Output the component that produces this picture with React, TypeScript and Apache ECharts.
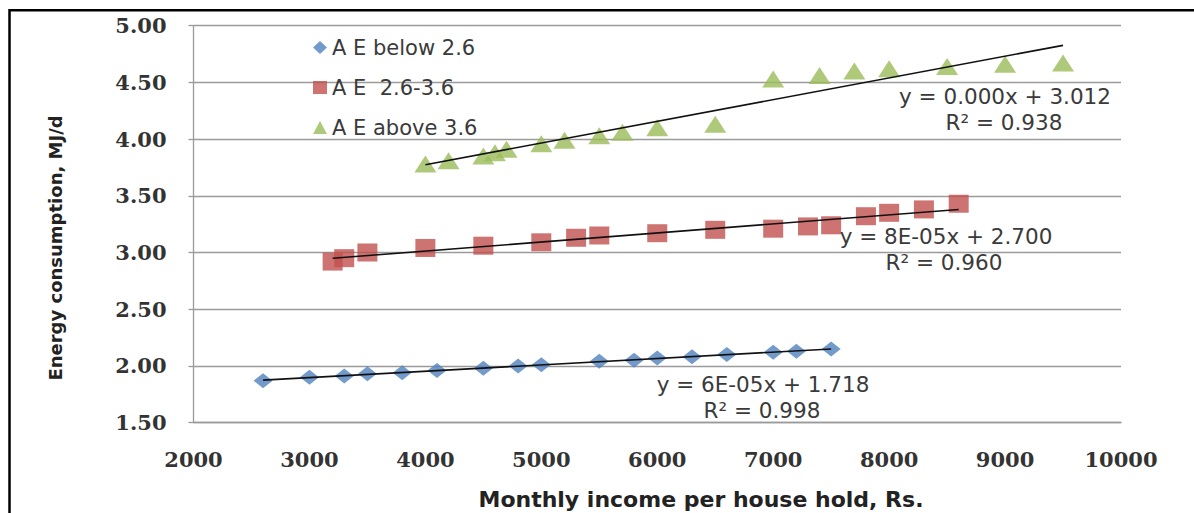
import React, { useEffect, useRef } from "react";
import * as echarts from "echarts";

// ---- data ----
const seriesNames = ["A E below 2.6", "A E  2.6-3.6", "A E above 3.6"];

const blueX = [2600, 3000, 3300, 3500, 3800, 4100, 4500, 4800, 5000, 5500, 5800, 6000, 6300, 6600, 7000, 7200, 7500];
const blueY = [1.87, 1.9, 1.91, 1.93, 1.94, 1.96, 1.98, 2.0, 2.01, 2.04, 2.05, 2.07, 2.08, 2.1, 2.12, 2.13, 2.15];

const redX = [3200, 3300, 3500, 4000, 4500, 5000, 5300, 5500, 6000, 6500, 7000, 7300, 7500, 7800, 8000, 8300, 8600];
const redY = [2.92, 2.95, 3.0, 3.04, 3.06, 3.09, 3.13, 3.15, 3.17, 3.2, 3.21, 3.23, 3.24, 3.32, 3.35, 3.38, 3.43];

const greenX = [4000, 4200, 4500, 4600, 4700, 5000, 5200, 5500, 5700, 6000, 6500, 7000, 7400, 7700, 8000, 8500, 9000, 9500];
const greenY = [3.78, 3.81, 3.85, 3.88, 3.91, 3.96, 3.99, 4.03, 4.06, 4.1, 4.13, 4.53, 4.56, 4.6, 4.62, 4.64, 4.66, 4.67];

const equationLines = [
  ["y = 6E-05x + 1.718", "R² = 0.998"],
  ["y = 8E-05x + 2.700", "R² = 0.960"],
  ["y = 0.000x + 3.012", "R² = 0.938"],
];

const xTitle = "Monthly income per house hold, Rs.";
const yTitle = "Energy consumption, MJ/d";

const colors = ["#4F81BD", "#C0504D", "#9BBB59"];

function pairs(xs: number[], ys: number[]) {
  return xs.map((x, i) => [x, ys[i]]);
}

function trend(xs: number[], ys: number[]) {
  const n = xs.length;
  const mx = xs.reduce((a, b) => a + b, 0) / n;
  const my = ys.reduce((a, b) => a + b, 0) / n;
  let sxy = 0;
  let sxx = 0;
  for (let i = 0; i < n; i++) {
    sxy += (xs[i] - mx) * (ys[i] - my);
    sxx += (xs[i] - mx) * (xs[i] - mx);
  }
  const b = sxy / sxx;
  const a = my - b * mx;
  const x0 = Math.min(...xs);
  const x1 = Math.max(...xs);
  return [
    [x0, a + b * x0],
    [x1, a + b * x1],
  ];
}

export default function App() {
  const ref = useRef<HTMLDivElement>(null);

  useEffect(() => {
    if (!ref.current) return;
    const chart = echarts.init(ref.current, null, { renderer: "svg" });

    const eqPos = [
      [[763, 384], [762, 410]],
      [[946, 236], [944, 262]],
      [[1005, 96], [1004, 122]],
    ];
    const eqGraphics: any[] = [];
    equationLines.forEach((lines, si) => {
      lines.forEach((t, li) => {
        eqGraphics.push({
          type: "text",
          x: eqPos[si][li][0],
          y: eqPos[si][li][1],
          z: 20,
          style: {
            text: t,
            fill: "#3a3a3a",
            font: "21.5px 'DejaVu Sans'",
            align: "center",
            verticalAlign: "middle",
          },
        });
      });
    });

    const option: any = {
      animation: false,
      backgroundColor: "#ffffff",
      grid: { left: 193.5, right: 73, top: 25.7, bottom: 90.4, containLabel: false },
      legend: {
        orient: "vertical",
        left: 308,
        top: 32,
        itemWidth: 14,
        itemHeight: 13,
        itemGap: 19,
        data: [
          { name: seriesNames[0], icon: "diamond" },
          { name: seriesNames[1], icon: "rect" },
          { name: seriesNames[2], icon: "triangle" },
        ],
        textStyle: { fontFamily: "DejaVu Sans", fontSize: 21, color: "#3a3a3a" },
      },
      xAxis: {
        type: "value",
        min: 2000,
        max: 10000,
        interval: 1000,
        splitLine: { show: false },
        axisLine: { show: true, lineStyle: { color: "#9a9a9a", width: 1.3 } },
        axisTick: { show: false },
        axisLabel: {
          margin: 26,
          fontFamily: "DejaVu Serif",
          fontWeight: "bold",
          fontSize: 21,
          color: "#333333",
          formatter: (v: number) => String(v),
        },
      },
      yAxis: {
        type: "value",
        min: 1.5,
        max: 5,
        interval: 0.5,
        splitLine: { show: true, lineStyle: { color: "#9a9a9a", width: 1.3 } },
        axisLine: { show: true, lineStyle: { color: "#9a9a9a", width: 1.3 } },
        axisTick: { show: true, length: 5, lineStyle: { color: "#9a9a9a", width: 1.3 } },
        axisLabel: {
          margin: 27,
          fontFamily: "DejaVu Serif",
          fontWeight: "bold",
          fontSize: 21,
          color: "#333333",
          formatter: (v: number) => v.toFixed(2),
        },
      },
      series: [
        {
          name: seriesNames[0],
          type: "scatter",
          symbol: "diamond",
          symbolSize: [19, 15],
          itemStyle: { color: colors[0] },
          data: pairs(blueX, blueY),
          z: 2,
        },
        {
          name: seriesNames[1],
          type: "scatter",
          symbol: "rect",
          symbolSize: [20, 18],
          itemStyle: { color: colors[1] },
          data: pairs(redX, redY),
          z: 2,
        },
        {
          name: seriesNames[2],
          type: "scatter",
          symbol: "triangle",
          symbolSize: [22, 17],
          itemStyle: { color: colors[2] },
          data: pairs(greenX, greenY),
          z: 2,
        },
        ...[
          [blueX, blueY],
          [redX, redY],
          [greenX, greenY],
        ].map(([xs, ys]) => ({
          type: "line",
          data: trend(xs as number[], ys as number[]),
          showSymbol: false,
          symbol: "none",
          lineStyle: { color: "#111111", width: 1.6 },
          silent: true,
          z: 5,
        })),
      ],
      graphic: [
        {
          type: "rect",
          shape: { x: 9.5, y: 10.3, width: 1400, height: 800 },
          style: { fill: "none", stroke: "#000000", lineWidth: 2.5 },
          z: 30,
        },
        {
          type: "text",
          x: 701,
          y: 499,
          style: {
            text: xTitle,
            fill: "#222222",
            font: "bold 22px 'DejaVu Sans'",
            align: "center",
            verticalAlign: "middle",
          },
        },
        {
          type: "text",
          x: 55,
          y: 248,
          rotation: Math.PI / 2,
          style: {
            text: yTitle,
            fill: "#222222",
            font: "bold 18px 'DejaVu Sans'",
            align: "center",
            verticalAlign: "middle",
          },
        },
        ...eqGraphics,
      ],
    };

    chart.setOption(option);
    return () => chart.dispose();
  }, []);

  return (
    <div
      ref={ref}
      style={{ position: "fixed", left: 0, top: 0, width: 1194, height: 513, background: "#fff" }}
    />
  );
}
